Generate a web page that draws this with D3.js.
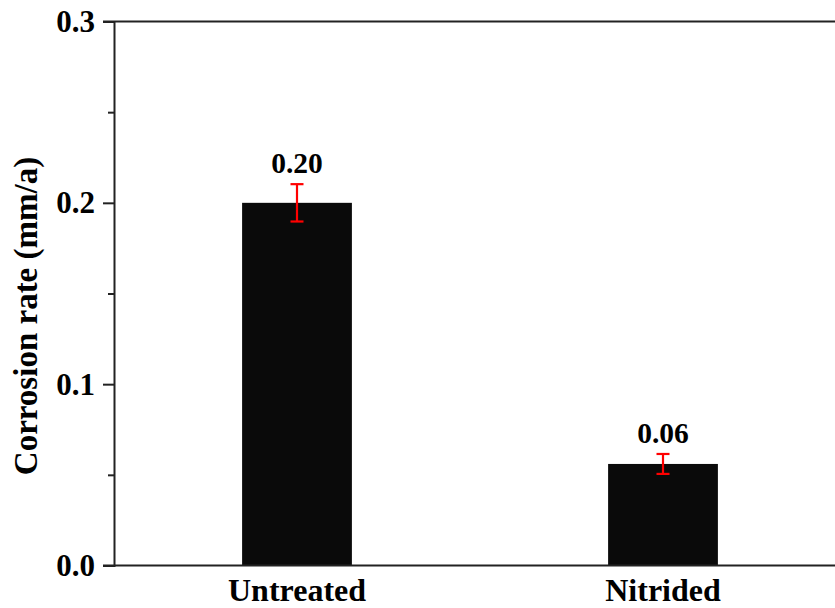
<!DOCTYPE html>
<html>
<head>
<meta charset="utf-8">
<script src="https://cdn.jsdelivr.net/npm/d3@7/dist/d3.min.js"></script>
<style>
html,body{margin:0;padding:0;background:#fff;}
svg{display:block;}
text{font-family:"Liberation Serif","Times New Roman",serif;font-weight:bold;fill:#000;}
</style>
</head>
<body>
<svg id="chart" width="835" height="608"></svg>
<script>
const categories = ["Untreated", "Nitrided"];
const values = [0.200, 0.056];
const errors = [0.0103, 0.0055];
const valueLabels = ["0.20", "0.06"];
const majorTicks = [0.0, 0.1, 0.2, 0.3];
const minorTicks = [0.05, 0.15, 0.25];

(function(){
const svg = d3.select("#chart");
const mLeft = 114, mRight = 846, mTop = 21.5, mBottom = 565.5;

const x = d3.scaleBand().domain(categories).range([mLeft, mRight])
  .paddingInner(0.7).paddingOuter(0.35);
const y = d3.scaleLinear().domain([0, 0.3]).range([mBottom, mTop]);

// bars
svg.append("g").selectAll("rect").data(categories).join("rect")
  .attr("x", d => x(d))
  .attr("width", x.bandwidth())
  .attr("y", (d,i) => y(values[i]))
  .attr("height", (d,i) => y(0) - y(values[i]))
  .attr("fill", "#0a0a0a");

// error bars
const eb = svg.append("g").attr("stroke", "#ff0000").attr("stroke-width", 2.2);
categories.forEach((c,i) => {
  const cx = x(c) + x.bandwidth()/2;
  const y1 = y(values[i] + errors[i]), y2 = y(values[i] - errors[i]);
  eb.append("line").attr("x1", cx).attr("x2", cx).attr("y1", y1).attr("y2", y2);
  eb.append("line").attr("x1", cx-6.5).attr("x2", cx+6.5).attr("y1", y1).attr("y2", y1);
  eb.append("line").attr("x1", cx-6.5).attr("x2", cx+6.5).attr("y1", y2).attr("y2", y2);
});

// value labels
svg.append("g").selectAll("text").data(categories).join("text")
  .attr("x", d => x(d) + x.bandwidth()/2)
  .attr("y", (d,i) => y(values[i] + errors[i]) - 11)
  .attr("text-anchor", "middle")
  .attr("font-size", 29.5)
  .text((d,i) => valueLabels[i]);

// y axis
const yAxis = d3.axisLeft(y).tickValues(majorTicks).tickFormat(d3.format(".1f"))
  .tickSize(11).tickPadding(8);
const gy = svg.append("g").attr("transform", `translate(${mLeft},0)`).call(yAxis);
gy.select(".domain").attr("stroke", "#222").attr("stroke-width", 2);
gy.selectAll(".tick line").attr("stroke", "#222").attr("stroke-width", 2);
gy.selectAll(".tick text").attr("font-size", 31).attr("font-family", "Liberation Serif").attr("font-weight", "bold").attr("fill", "#000");
const yMinor = d3.axisLeft(y).tickValues(minorTicks).tickSize(6).tickFormat("");
const gym = svg.append("g").attr("transform", `translate(${mLeft},0)`).call(yMinor);
gym.select(".domain").remove();
gym.selectAll(".tick line").attr("stroke", "#222").attr("stroke-width", 2);

// x axis (bottom) and top frame line
const xAxis = d3.axisBottom(x).tickSize(0).tickPadding(0);
const gx = svg.append("g").attr("transform", `translate(0,${mBottom})`).call(xAxis);
gx.select(".domain").attr("stroke", "#222").attr("stroke-width", 2).attr("d", `M${mLeft-11},0H${mRight}`);
gx.selectAll(".tick text").attr("font-size", 32).attr("font-family", "Liberation Serif").attr("font-weight", "bold").attr("fill", "#000")
  .attr("y", 35).attr("dy", 0);
svg.append("line").attr("x1", mLeft-11).attr("x2", mRight).attr("y1", mTop).attr("y2", mTop)
  .attr("stroke", "#222").attr("stroke-width", 2);

// y title
svg.append("text")
  .attr("transform", `translate(37,316) rotate(-90)`)
  .attr("text-anchor", "middle")
  .attr("font-size", 33)
  .text("Corrosion rate (mm/a)");
})();
</script>
</body>
</html>
